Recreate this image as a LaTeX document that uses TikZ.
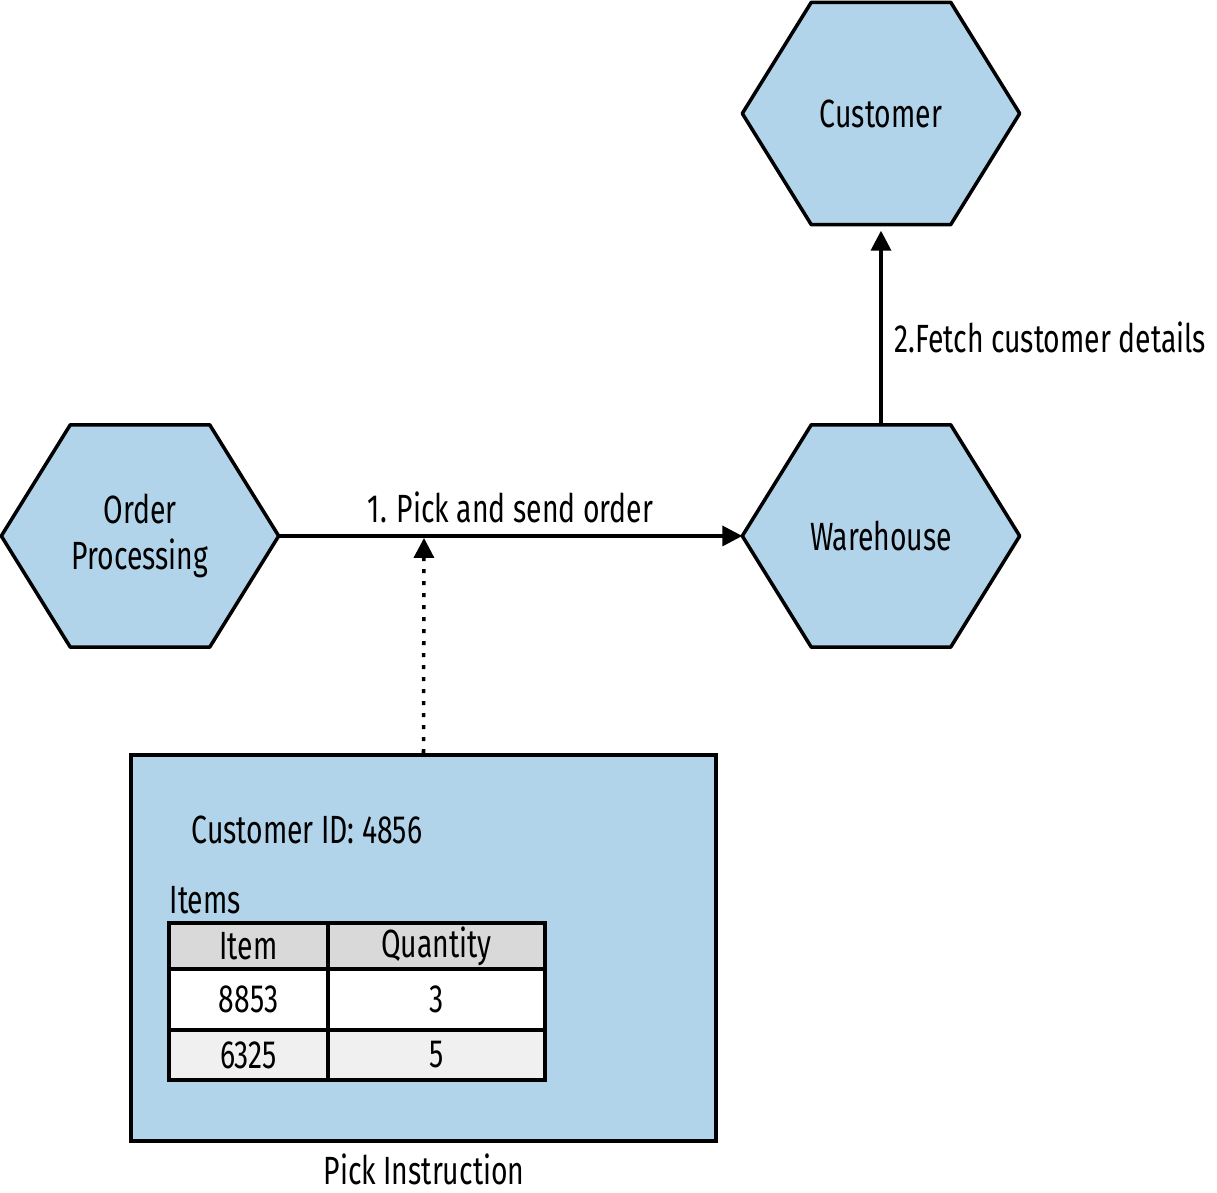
\documentclass[tikz,border=0pt]{standalone}
\usepackage{fontspec}
\setmainfont[FakeStretch=0.72]{Fira Sans}
\usetikzlibrary{arrows.meta,backgrounds}
\definecolor{hexblue}{RGB}{178,212,234}
\definecolor{headgray}{RGB}{217,217,217}
\definecolor{rowgray}{RGB}{240,240,240}
\tikzset{
    hexa/.style={minimum width=2.76cm, minimum height=2.21cm, inner sep=0pt, align=center},
    cell/.style={draw, line width=1pt, inner sep=0pt},
    link/.style={line width=1pt, -{Triangle[length=0.2cm,width=0.2cm]}}
}
\begin{document}
\begin{tikzpicture}[font=\fontsize{11.2}{13}\selectfont]
    \useasboundingbox (0,0) rectangle (12.17,11.93);
    \node[hexa] (customer) at (8.81,10.795) {Customer};
    \node[hexa] (warehouse) at (8.81,6.57) {Warehouse};
    \node[hexa] (orderproc) at (1.40,6.57) {Order\\Processing};
    % hexagons behind the nodes
    \begin{scope}[on background layer]
    \foreach \n in {customer,warehouse,orderproc}
        \draw[line width=1pt, line join=round, fill=hexblue] (\n.west)
            -- ([xshift=0.69cm]\n.north west) -- ([xshift=-0.69cm]\n.north east)
            -- (\n.east) -- ([xshift=-0.69cm]\n.south east)
            -- ([xshift=0.69cm]\n.south west) -- cycle;
    \end{scope}
    \draw[link] (orderproc.east) -- (warehouse.west)
        node[midway, above] {1. Pick and send order};
    \draw[link] (warehouse.north) -- ([yshift=-0.06cm]customer.south)
        node[midway, right, yshift=-0.1cm] {2.Fetch customer details};
    % pick instruction
    \node[draw, line width=1pt, fill=hexblue, minimum width=5.85cm,
        minimum height=3.86cm] (pickbox) at (4.235,2.45) {};
    \node (pickname) at (4.24,0.24) {Pick Instruction};
    \coordinate (ontheline) at (4.24,6.55);
    \draw[link, dash pattern=on 0.04cm off 0.08cm] (pickbox.north) -- (ontheline);
    \node (custid) at (3.07,3.63) {Customer ID: 4856};
    \node[anchor=west, inner sep=0pt] (items) at (1.69,2.93) {Items};
    \node[cell, fill=headgray, minimum width=1.59cm, minimum height=0.46cm] (hditem) at (2.485,2.47) {Item};
    \node[cell, fill=headgray, minimum width=2.17cm, minimum height=0.46cm] (hdqty) at (4.365,2.47) {Quantity};
    \node[cell, fill=white, minimum width=1.59cm, minimum height=0.61cm] (itema) at (2.485,1.935) {8853};
    \node[cell, fill=white, minimum width=2.17cm, minimum height=0.61cm] (qtya) at (4.365,1.935) {3};
    \node[cell, fill=rowgray, minimum width=1.59cm, minimum height=0.50cm] (itemb) at (2.485,1.38) {6325};
    \node[cell, fill=rowgray, minimum width=2.17cm, minimum height=0.50cm] (qtyb) at (4.365,1.38) {5};
\end{tikzpicture}
\end{document}
